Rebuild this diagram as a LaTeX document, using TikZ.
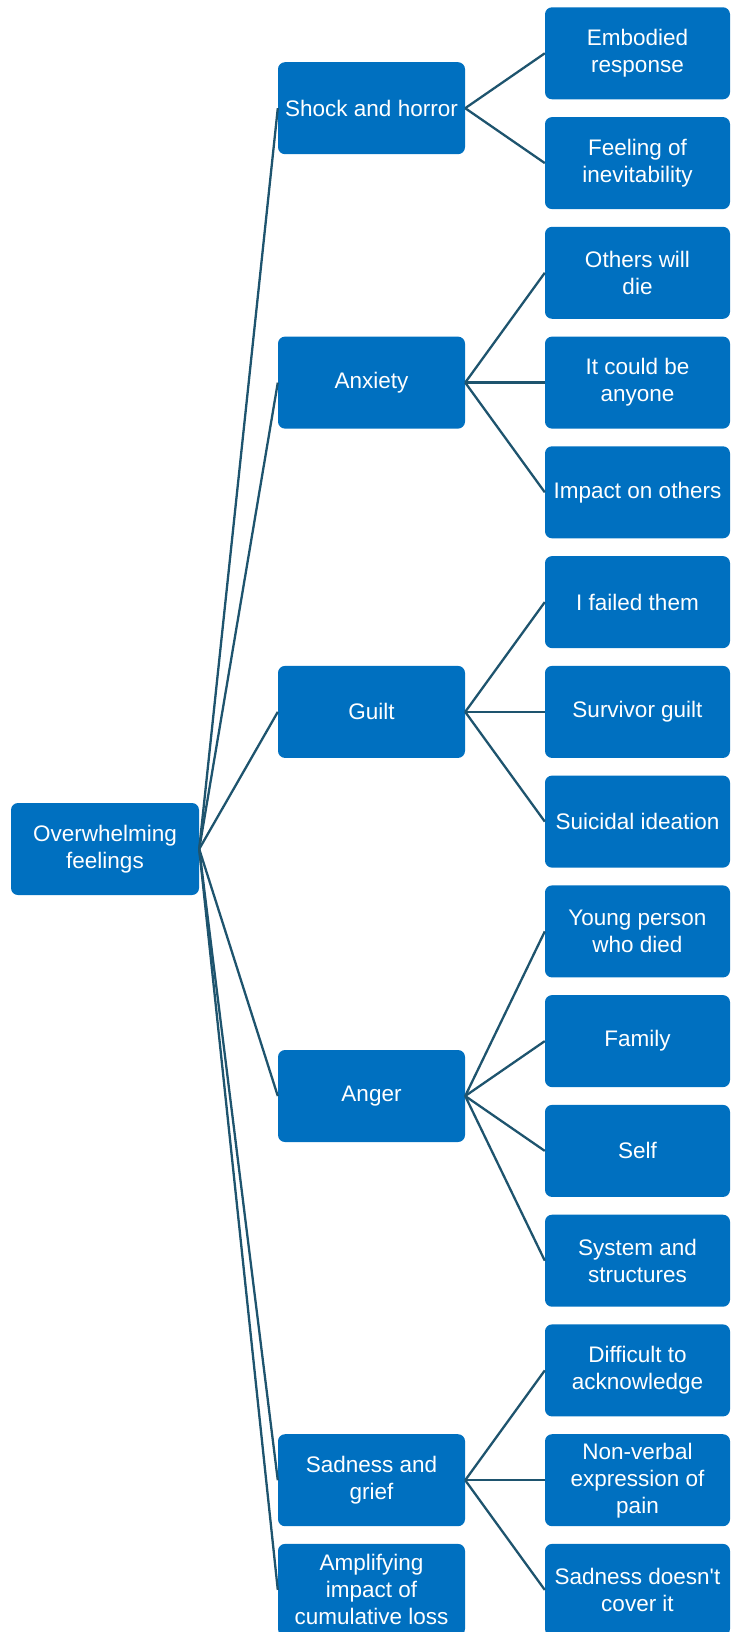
\documentclass[tikz,border=0pt]{standalone}
\usepackage{fontspec}
\setmainfont{Liberation Sans}
\definecolor{boxblue}{RGB}{0,112,192}
\definecolor{linkteal}{RGB}{30,84,110}
\begin{document}
\begin{tikzpicture}[x=1pt,y=-1pt,
  box/.style={fill=boxblue, rounded corners=7pt, text=white, align=center,
    font=\fontsize{22.5}{27}\selectfont, minimum height=92pt, inner sep=1pt},
  rootbox/.style={box, minimum width=188pt},
  topic/.style={box, minimum width=187pt},
  leaf/.style={box, minimum width=185pt},
  link/.style={draw=linkteal, line width=2.3pt}]
\useasboundingbox (0,0) rectangle (731,1632);

% root
\node[rootbox] (root) at (105,849) {Overwhelming\\feelings};

% first level
\node[topic] (shock) at (371.5,108.2) {Shock and horror};
\node[topic] (anx)   at (371.5,382.6) {Anxiety};
\node[topic] (guilt) at (371.5,711.9) {Guilt};
\node[topic] (anger) at (371.5,1096.0) {Anger};
\node[topic] (sad)   at (371.5,1480.2) {Sadness and\\grief};
\node[topic] (amp)   at (371.5,1589.9) {Amplifying\\impact of\\cumulative loss};

% second level
\node[leaf] (l0)  at (637.5,53.3)   {Embodied\\response};
\node[leaf] (l1)  at (637.5,163.1)  {Feeling of\\inevitability};
\node[leaf] (l2)  at (637.5,272.8)  {Others will\\die};
\node[leaf] (l3)  at (637.5,382.6)  {It could be\\anyone};
\node[leaf] (l4)  at (637.5,492.3)  {Impact on others};
\node[leaf] (l5)  at (637.5,602.1)  {I failed them};
\node[leaf] (l6)  at (637.5,711.9)  {Survivor guilt};
\node[leaf] (l7)  at (637.5,821.6)  {Suicidal ideation};
\node[leaf] (l8)  at (637.5,931.4)  {Young person\\who died};
\node[leaf] (l9)  at (637.5,1041.1) {Family};
\node[leaf] (l10) at (637.5,1150.9) {Self};
\node[leaf] (l11) at (637.5,1260.7) {System and\\structures};
\node[leaf] (l12) at (637.5,1370.4) {Difficult to\\acknowledge};
\node[leaf] (l13) at (637.5,1480.2) {Non-verbal\\expression of\\pain};
\node[leaf] (l14) at (637.5,1589.9) {Sadness doesn\textquotesingle t\\cover it};

% connectors
\foreach \t in {shock,anx,guilt,anger,sad,amp}
  \draw[link] (root.east) -- (\t.west);
\foreach \l in {l0,l1} \draw[link] (shock.east) -- (\l.west);
\foreach \l in {l2,l3,l4} \draw[link] (anx.east) -- (\l.west);
\foreach \l in {l5,l6,l7} \draw[link] (guilt.east) -- (\l.west);
\foreach \l in {l8,l9,l10,l11} \draw[link] (anger.east) -- (\l.west);
\foreach \l in {l12,l13,l14} \draw[link] (sad.east) -- (\l.west);
\end{tikzpicture}
\end{document}
